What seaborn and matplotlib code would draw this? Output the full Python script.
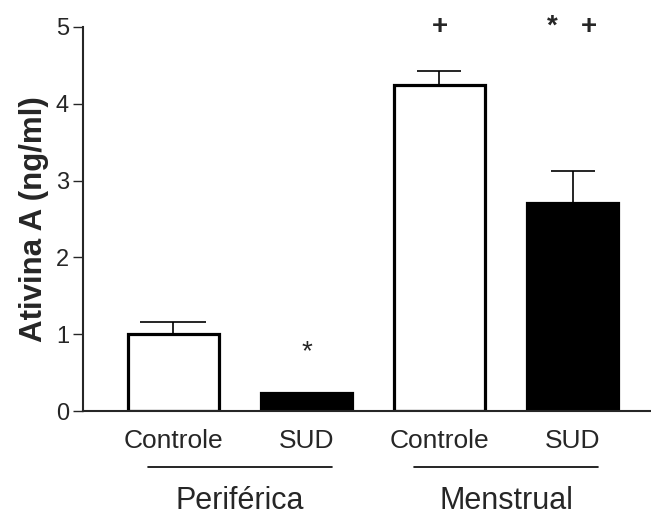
import numpy as np
import pandas as pd
import matplotlib
matplotlib.use("Agg")
import matplotlib.pyplot as plt
import matplotlib.transforms as mtransforms
import seaborn as sns

# ---- data ----
groups     = ['Periférica', 'Periférica', 'Menstrual', 'Menstrual']
conditions = ['Controle', 'SUD', 'Controle', 'SUD']
means      = [1.00, 0.24, 4.24, 2.71]
sem        = [0.16, 0.01, 0.19, 0.42]
marks      = ['', '*', '+', '*   +']
mark_y     = [0, 0.77, 5.0, 5.0]
capsizes   = [24, 0, 16, 16]

sns.set_theme(style='ticks')
plt.rcParams['font.family'] = ['Liberation Sans', 'DejaVu Sans']

df = pd.DataFrame({'group': groups, 'condition': conditions, 'mean': means, 'sem': sem})
df['bar'] = df['group'] + ' ' + df['condition']

fig = plt.figure(figsize=(6.51, 5.19), dpi=100)
ax = fig.add_axes([0.1275, 0.208, 0.8725, 0.740])

sns.barplot(data=df, x='bar', y='mean', hue='condition',
            palette={'Controle': 'white', 'SUD': 'black'},
            dodge=False, width=0.68, edgecolor='black', linewidth=2.3,
            legend=False, ax=ax)

# one-sided error bars (mean + SEM)
for i, row in df.iterrows():
    ax.errorbar(i, row['mean'], yerr=[[0], [row['sem']]], fmt='none',
                ecolor='black', elinewidth=1.2, capsize=capsizes[i], capthick=1.2,
                zorder=1)

# significance marks
for i, m in enumerate(marks):
    if m:
        ax.text(i, mark_y[i], m, ha='center', va='center', fontsize=20,
                fontweight='bold' if '+' in m else 'normal', clip_on=False)

ax.set_ylim(0, 5)
ax.set_xlim(-0.68, 3.59)
ax.set_yticks([0, 1, 2, 3, 4, 5])
ax.set_xticks(range(len(df)))
ax.set_xticklabels(conditions)
ax.tick_params(axis='x', length=0, pad=13, labelsize=19)
ax.tick_params(axis='y', length=7, width=1, labelsize=17, pad=3)
ax.set_xlabel('')
ax.set_ylabel('Ativina A (ng/ml)', fontsize=22.5, fontweight='bold', labelpad=5)
for s in ['left', 'bottom']:
    ax.spines[s].set_linewidth(1.5)
sns.despine(ax=ax)

# group brackets below the tick labels
trans = mtransforms.blended_transform_factory(ax.transData, ax.transAxes)
for g in ['Periférica', 'Menstrual']:
    c = df.index[df['group'] == g].to_numpy().mean()
    ax.plot([c - 0.69, c + 0.69], [-0.146, -0.146], color='black', lw=1.2,
            transform=trans, clip_on=False)
    ax.text(c, -0.256, g, ha='center', va='baseline', fontsize=22,
            transform=trans)

fig.savefig('out.png', dpi=100)
